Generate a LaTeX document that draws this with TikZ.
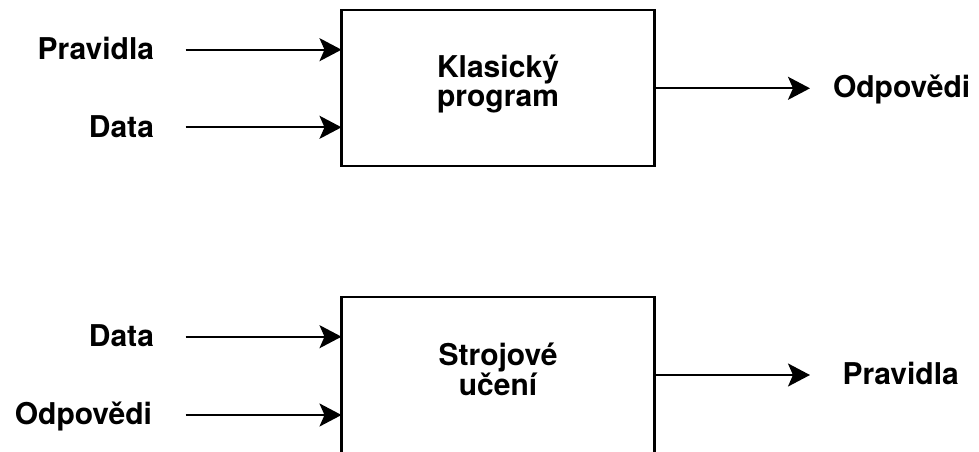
\documentclass[tikz,border=0pt]{standalone}
\usepackage{fontspec}
\setmainfont{TeX Gyre Heros}
\usetikzlibrary{arrows.meta}
\begin{document}
\begin{tikzpicture}[x=1pt,y=-1pt,
  block/.style={draw=black, line width=2.2pt, minimum width=313pt, minimum height=156pt,
                inner sep=0pt, outer sep=0pt},
  lbl/.style={font=\fontsize{30}{36}\selectfont\bfseries, inner sep=0pt, outer sep=0pt},
  flow/.style={draw=black, line width=2.2pt,
               -{Stealth[length=22pt,width=23pt,inset=5pt]}}]
\useasboundingbox (0,0) rectangle (979,452);

% classic program
\node[block] (cp) at (498,88.3) {};
\node[lbl, anchor=base] (cpa) at (498,77.3) {Klasický};
\node[lbl, anchor=base] (cpb) at (498,106.7) {program};

\coordinate (cpin1) at (185.5,49.7);
\coordinate (cpin2) at (185.5,127.3);
\coordinate (cpout) at (810,88.3);
\draw[flow] (cpin1) -- (cpin1 -| cp.west);
\draw[flow] (cpin2) -- (cpin2 -| cp.west);
\draw[flow] (cp.east) -- (cpout);

\node[lbl, anchor=base east] (cprules) at (154,59.8) {Pravidla};
\node[lbl, anchor=base east] (cpdata) at (154,137.5) {Data};
\node[lbl, anchor=base west] (cpans) at (833,97) {Odpovědi};

% machine learning
\node[block] (ml) at (498,375) {};
\node[lbl, anchor=base] (mla) at (498,365) {Strojové};
\node[lbl, anchor=base] (mlb) at (498,395) {učení};

\coordinate (mlin1) at (185.5,336.7);
\coordinate (mlin2) at (185.5,415);
\coordinate (mlout) at (810,375);
\draw[flow] (mlin1) -- (mlin1 -| ml.west);
\draw[flow] (mlin2) -- (mlin2 -| ml.west);
\draw[flow] (ml.east) -- (mlout);

\node[lbl, anchor=base east] (mldata) at (154,346.5) {Data};
\node[lbl, anchor=base east] (mlans) at (152,424.5) {Odpovědi};
\node[lbl, anchor=base west] (mlrules) at (842.5,384.3) {Pravidla};
\end{tikzpicture}
\end{document}
